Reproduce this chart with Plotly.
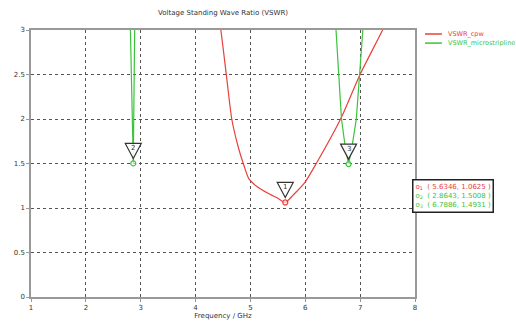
import plotly.graph_objects as go

# ---- data ----
cpw_freq = [4.30, 4.46, 4.56, 4.66, 4.78, 4.88, 4.97, 5.10, 5.32, 5.50, 5.6346, 5.78, 5.99, 6.20, 6.66, 6.99, 7.41, 7.60]
cpw_vswr = [3.60, 3.00, 2.50, 2.00, 1.68, 1.48, 1.33, 1.25, 1.165, 1.11, 1.0625, 1.146, 1.285, 1.50, 2.02, 2.49, 3.00, 3.25]

ms_freq = [2.76, 2.82, 2.84, 2.8643, 2.875, 2.89, 2.95, 4.0, 5.5, 6.48, 6.56, 6.61, 6.66, 6.73, 6.7886, 6.86, 6.93, 6.99, 7.05, 7.12]
ms_vswr = [4.50, 3.00, 2.20, 1.5008, 2.10, 3.00, 4.50, 6.0, 6.0, 3.60, 3.00, 2.50, 2.00, 1.68, 1.4931, 1.72, 2.00, 2.50, 3.00, 3.60]

marker_ids = ["1", "2", "3"]
marker_x = [5.6346, 2.8643, 6.7886]
marker_y = [1.0625, 1.5008, 1.4931]
marker_colors = ["#e8403a", "#3cc23c", "#3cc23c"]

series_names = ["VSWR_cpw", "VSWR_microstripline"]
series_colors = ["#e8403a", "#3cc23c"]

x_ticks = [1, 2, 3, 4, 5, 6, 7, 8]
y_ticks = [0, 0.5, 1, 1.5, 2, 2.5, 3]

FONT = "DejaVu Sans"

fig = go.Figure()
fig.add_trace(go.Scatter(x=cpw_freq, y=cpw_vswr, mode="lines", name=series_names[0],
                         line=dict(color=series_colors[0], width=1.2, shape="spline", smoothing=0.6),
                         showlegend=False, hoverinfo="skip"))
fig.add_trace(go.Scatter(x=ms_freq, y=ms_vswr, mode="lines", name=series_names[1],
                         line=dict(color=series_colors[1], width=1.2),
                         showlegend=False, hoverinfo="skip"))
fig.add_trace(go.Scatter(x=marker_x, y=marker_y, mode="markers", showlegend=False, hoverinfo="skip",
                         marker=dict(size=5, color="rgba(255,255,255,0.6)",
                                     line=dict(color=marker_colors, width=1.2))))

shapes = []
annotations = []
for mid, mx, my in zip(marker_ids, marker_x, marker_y):
    shapes.append(dict(type="path", xref="x", yref="y", xsizemode="pixel", ysizemode="pixel",
                       xanchor=mx, yanchor=my, path="M0,5 L-8,20 L8,20 Z",
                       line=dict(color="#333333", width=1.2), fillcolor="rgba(255,255,255,0.9)"))
    annotations.append(dict(x=mx, y=my, xref="x", yref="y", text=mid, showarrow=False,
                            yshift=15, font=dict(family=FONT, size=7, color="#333333")))

# legend (manual)
for i, (nm, col) in enumerate(zip(series_names, series_colors)):
    yy = 0.985 - i * 0.034
    shapes.append(dict(type="line", xref="paper", yref="paper", x0=1.026, x1=1.07, y0=yy, y1=yy,
                       line=dict(color=col, width=1.5)))
    annotations.append(dict(x=1.081, y=yy, xref="paper", yref="paper", xanchor="left", yanchor="middle",
                            text=nm, showarrow=False, font=dict(family=FONT, size=6.5, color=col)))

# marker readout box
lines = []
for mid, mx, my, col in zip(marker_ids, marker_x, marker_y, marker_colors):
    lines.append(f"<span style='color:{col}'>o<sub>{mid}</sub>  ( {mx:.4f}, {my:.4f} )</span>")
annotations.append(dict(x=0.992, y=0.442, xref="paper", yref="paper", xanchor="left", yanchor="top",
                        text="<br>".join(lines), align="left", showarrow=False,
                        bordercolor="#222222", borderwidth=1.5, borderpad=2, bgcolor="white",
                        font=dict(family=FONT, size=7)))

fig.update_layout(
    width=516, height=322,
    margin=dict(l=31, r=101, t=30, b=25, autoexpand=False),
    paper_bgcolor="white", plot_bgcolor="white",
    title=dict(text="Voltage Standing Wave Ratio (VSWR)", x=223 / 516, xanchor="center",
               y=1 - 13 / 322, yanchor="middle", font=dict(family=FONT, size=7, color="#333333")),
    shapes=shapes, annotations=annotations,
    font=dict(family=FONT, size=7, color="#333333"),
    hovermode=False,
)
fig.update_xaxes(range=[1, 8], tickvals=x_ticks, showgrid=True, gridcolor="#555555", griddash="dot",
                 gridwidth=1, showline=True, linecolor="#999999", linewidth=1.5, mirror=True,
                 ticks="outside", ticklen=3, tickcolor="#999999", zeroline=False, automargin=False,
                 title=dict(text="Frequency / GHz", standoff=2, font=dict(family=FONT, size=7)),
                 tickfont=dict(family=FONT, size=7))
fig.update_yaxes(range=[0, 3], tickvals=y_ticks, showgrid=True, gridcolor="#555555", griddash="dot",
                 gridwidth=1, showline=True, linecolor="#999999", linewidth=1.5, mirror=True,
                 ticks="outside", ticklen=3, tickcolor="#999999", zeroline=False, automargin=False,
                 tickfont=dict(family=FONT, size=7))

fig.write_html("out.html", config={"displayModeBar": False},
               post_script="document.body.style.margin='0';document.body.style.overflow='hidden';")
